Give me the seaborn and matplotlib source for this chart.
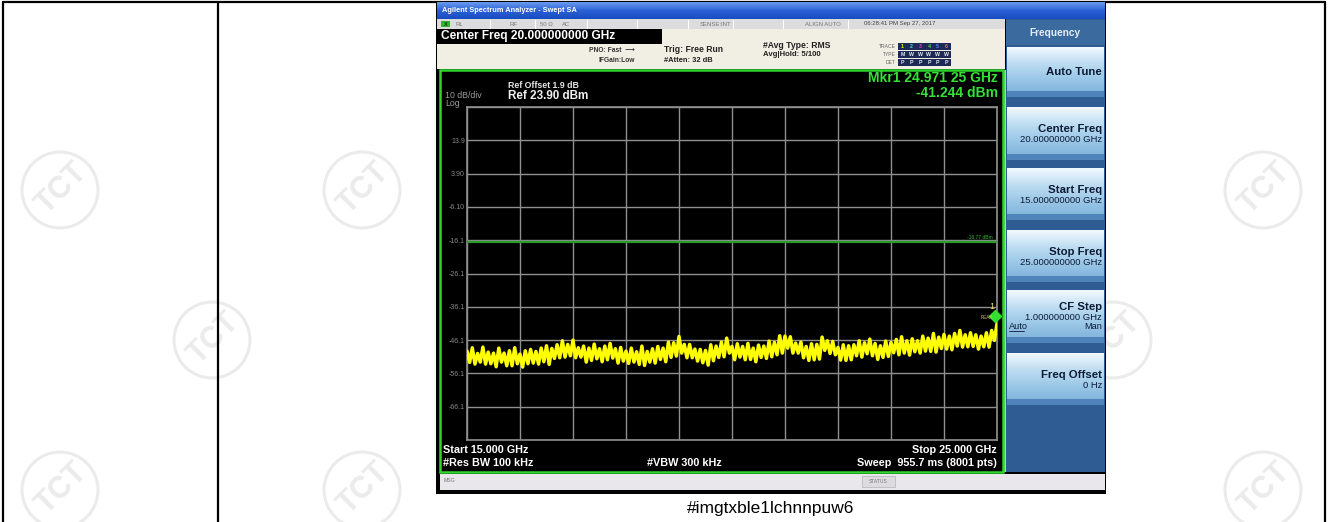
import numpy as np
import pandas as pd
import matplotlib.pyplot as plt
import seaborn as sns
from matplotlib.patches import Rectangle, Circle
from matplotlib.colors import LinearSegmentedColormap

# ---- readings off the analyzer screen ----
start_ghz = 15.0
stop_ghz = 25.0
ref_level = 23.9      # dBm, top graticule line
db_per_div = 10

# upper edge of the noise band, every 0.1 GHz from 15.0 to 25.0
band_top = [-49.4, -48.4, -50.1, -48.2, -49.7, -50.0, -48.5, -50.0, -49.3, -48.4,
            -50.3, -49.3, -48.9, -49.5, -48.5, -47.8, -48.6, -47.5, -46.3, -47.4,
            -46.1, -48.4, -47.9, -48.5, -47.3, -48.7, -47.9, -47.1, -48.7, -48.3,
            -49.4, -48.5, -49.6, -47.9, -49.5, -48.7, -48.0, -48.5, -46.7, -46.9,
            -45.0, -47.4, -47.4, -48.8, -48.9, -49.2, -47.5, -47.9, -46.7, -45.5,
            -48.0, -47.2, -48.0, -47.1, -48.5, -47.6, -47.9, -46.4, -46.8, -44.8,
            -44.9, -45.1, -47.0, -46.7, -48.0, -47.2, -47.4, -45.2, -46.3, -46.5,
            -48.3, -47.5, -47.8, -47.5, -46.3, -46.9, -45.8, -47.1, -47.8, -46.4,
            -46.8, -45.9, -45.1, -46.3, -45.7, -46.3, -44.9, -45.5, -44.1, -45.2,
            -44.4, -44.9, -44.1, -43.2, -44.5, -43.9, -44.5, -44.9, -43.9, -43.2,
            -41.2]
# lower edge of the noise band, every 0.1 GHz from 15.05 to 24.95
band_bottom = [-52.8, -53.3, -52.7, -53.3, -53.2, -54.1, -52.7, -53.8, -53.8, -53.2,
               -54.2, -53.2, -53.0, -53.3, -52.6, -53.4, -51.6, -51.4, -51.2, -50.8,
               -51.4, -51.2, -52.7, -52.2, -51.7, -52.6, -52.0, -51.5, -53.0, -52.4,
               -53.1, -52.7, -53.4, -53.7, -52.7, -53.0, -51.9, -52.6, -51.3, -50.9,
               -50.0, -51.4, -51.4, -52.4, -52.9, -53.6, -52.3, -51.3, -51.1, -50.0,
               -52.0, -51.2, -52.0, -51.9, -52.6, -51.3, -51.6, -51.1, -50.5, -50.0,
               -48.5, -50.0, -50.0, -51.4, -52.2, -52.0, -51.8, -49.2, -50.1, -50.5,
               -52.1, -52.2, -52.0, -50.8, -51.2, -50.2, -50.8, -51.9, -51.3, -51.0,
               -49.9, -50.5, -50.0, -50.6, -49.6, -50.0, -49.4, -49.5, -49.7, -48.6,
               -48.8, -49.0, -47.9, -48.2, -48.1, -48.0, -48.8, -48.1, -48.2, -46.2]

marker_freq = 24.97125
marker_level = -41.244
display_line = -16.77

y_tick_labels = ["", "13.9", "3.90", "-6.10", "-16.1", "-26.1", "-36.1",
                 "-46.1", "-56.1", "-66.1", ""]

softkeys = ["Auto Tune", "Center Freq", "Start Freq", "Stop Freq", "CF Step", "Freq Offset"]
softkey_values = ["", "20.000000000 GHz", "15.000000000 GHz", "25.000000000 GHz",
                  "1.000000000 GHz", "0 Hz"]
softkey_rows = [(47, 97), (107, 160), (168, 220), (230, 282), (290, 343), (353, 405)]

# build the trace (upper and lower readings alternate like the raw sweep)
f_top = np.round(start_ghz + 0.1 * np.arange(len(band_top)), 2)
f_bot = f_top[:-1] + 0.05
freq = np.empty(len(band_top) + len(band_bottom))
level = np.empty_like(freq)
freq[0::2], freq[1::2] = f_top, f_bot
level[0::2], level[1::2] = band_top, band_bottom
trace = pd.DataFrame({"Frequency (GHz)": freq, "Level (dBm)": level})

sns.set_style("white")
plt.rcParams['font.family'] = ['Liberation Sans', 'DejaVu Sans']

W, H = 1328, 522
fig = plt.figure(figsize=(W / 100, H / 100), dpi=100)
fig.patch.set_facecolor("white")

# page / screenshot drawn in pixel coordinates
bg = fig.add_axes([0, 0, 1, 1])
bg.axis("off")


def box(x0, y0, x1, y1, color, z=2, **kw):
    bg.add_patch(Rectangle((x0, y0), x1 - x0, y1 - y0, facecolor=color,
                           edgecolor=kw.pop("ec", "none"), zorder=z, **kw))


def txt(x, y, s, size, color="black", ha="left", weight="normal", z=8, **kw):
    bg.text(x, y, s, fontsize=size, color=color, ha=ha, va="center",
            fontweight=weight, zorder=z, **kw)


def gradient(x0, y0, x1, y1, colors, z=3):
    cm = LinearSegmentedColormap.from_list("g", colors)
    g = np.linspace(0, 1, 64).reshape(-1, 1)
    bg.imshow(g, cmap=cm, extent=(x0, x1, y1, y0), aspect="auto", zorder=z,
              interpolation="bilinear")


# watermarks
for cx, cy in [(60, 190), (362, 190), (212, 340), (60, 490), (362, 490),
               (1263, 190), (1263, 490), (1113, 340)]:
    bg.add_patch(Circle((cx, cy), 38, fill=False, ec="#ebebeb", lw=2.2, zorder=0))
    bg.text(cx + 2, cy - 2, "TCT", fontsize=22, fontweight="bold", color="#ebebeb",
            rotation=45, ha="center", va="center", zorder=0)

# table rules
for x in (3, 218, 1325):
    bg.plot([x, x], [2, H], color="black", lw=1.6, zorder=1)
bg.plot([3, 1325], [2, 2], color="black", lw=1.6, zorder=1)

# screenshot frame
box(436, 1, 1106, 494, "black", z=2)
gradient(437, 2, 1105, 19, ["#6b9bf0", "#2a60d6", "#1a4cc0"])
txt(442, 10, "Agilent Spectrum Analyzer - Swept SA", 5.3, "white", weight="bold")

# status row
box(437, 19, 1005, 29, "#dcdcdf", z=3)
for sx in (490, 535, 587, 637, 688, 733, 783, 848):
    bg.plot([sx, sx], [20, 28], color="#ffffff", lw=0.8, zorder=4)
box(441, 21, 450, 27, "#2fb82f", z=4)
txt(445.5, 24, "X", 4, "#103010", ha="center", weight="bold")
for sx, s in [(455, "RL"), (510, "RF"), (540, "50 Ω"), (562, "AC"),
              (715, "SENSE:INT"), (823, "ALIGN AUTO")]:
    txt(sx, 24, s, 4.3, "#777777", ha="left" if sx < 600 else "center")
txt(900, 24, "06:28:41 PM Sep 27, 2017", 4.3, "#444444", ha="center")

# settings header
box(437, 29, 1005, 69, "#f1eee4", z=3)
box(437, 29, 662, 44, "black", z=4)
txt(441, 36.5, "Center Freq 20.000000000 GHz", 8.6, "white", weight="bold")
txt(635, 51, "PNO: Fast  ⟶", 4.8, "#333333", ha="right", weight="bold")
txt(635, 61, "IFGain:Low", 4.8, "#333333", ha="right", weight="bold")
txt(664, 50, "Trig: Free Run", 6.2, "#222222", weight="bold")
txt(664, 60, "#Atten: 32 dB", 5.4, "#222222", weight="bold")
txt(763, 46, "#Avg Type: RMS", 6.2, "#222222", weight="bold")
txt(763, 55, "Avg|Hold: 5/100", 5.6, "#222222", weight="bold")
for ry, lab, cells in [(46, "TRACE", ["1", "2", "3", "4", "5", "6"]),
                       (54, "TYPE", ["M", "W", "W", "W", "W", "W"]),
                       (62, "DET", ["P", "P", "P", "P", "P", "P"])]:
    txt(896, ry, lab, 3.6, "#666666", ha="right")
    box(898, ry - 3.5, 951, ry + 3.5, "#1c2a55", z=4)
    cols = ["#f0f000", "#40e0e0", "#e040e0", "#40e040", "#6080ff", "#e08040"]
    for i, c in enumerate(cells):
        tc = cols[i] if lab == "TRACE" else "#e8e8e8"
        txt(902.5 + 8.8 * i, ry, c, 3.8, tc, ha="center", weight="bold")

# graph area
box(440, 70, 1003, 472, "black", z=3)
bg.add_patch(Rectangle((440, 70), 563, 402, fill=False, ec="#2ed62e", lw=1.8, zorder=7))
txt(508, 85, "Ref Offset 1.9 dB", 6.3, "#e8e8e8", weight="bold")
txt(508, 96, "Ref 23.90 dBm", 8.4, "#f0f0f0", weight="bold")
txt(445, 96, "10 dB/div", 6.3, "#9a9a9a")
txt(445, 103.5, "Log", 6.3, "#9a9a9a")
txt(998, 78, "Mkr1 24.971 25 GHz", 10, "#36e036", ha="right", weight="bold")
txt(998, 93, "-41.244 dBm", 10, "#36e036", ha="right", weight="bold")
txt(443, 450, "Start 15.000 GHz", 7.8, "white", weight="bold")
txt(443, 463, "#Res BW 100 kHz", 7.8, "white", weight="bold")
txt(647, 463, "#VBW 300 kHz", 7.8, "white", weight="bold")
txt(997, 450, "Stop 25.000 GHz", 7.8, "white", ha="right", weight="bold")
txt(997, 463, "Sweep  955.7 ms (8001 pts)", 7.8, "white", ha="right", weight="bold")

# message bar
box(440, 474, 1105, 490, "#e9e7eb", z=3)
txt(444, 481, "MSG", 3.8, "#777777")
box(862, 476, 895, 487, "#dddbe0", z=4, ec="#bbbbbb", lw=0.6)
txt(878.5, 481.5, "STATUS", 3.6, "#777777", ha="center")

# soft key panel
box(1003, 70, 1006, 472, "#9fe09f", z=4)
box(1006, 19, 1105, 472, "#2f5d93", z=3)
box(1006, 20, 1105, 45, "#3b6a9f", z=4)
txt(1055, 33, "Frequency", 7.3, "#e4eef8", ha="center", weight="bold")
for (y0, y1), key, val in zip(softkey_rows, softkeys, softkey_values):
    gradient(1007, y0, 1104, y1, ["#f2f9fe", "#bcdcf1", "#98c5e6", "#7aaed8"], z=4)
    box(1007, y1 - 6, 1104, y1, "#4f84ba", z=5)
    ky = (y0 + y1) / 2 - 4 if val else (y0 + y1) / 2
    if key == "CF Step":
        ky = y0 + 17
    txt(1102, ky, key, 8.2, "#0d1b36", ha="right", weight="bold")
    if val:
        txt(1102, ky + 10.5, val, 6.8, "#0d1b36", ha="right")
    if key == "CF Step":
        txt(1009, ky + 19.5, "Auto", 6.6, "#0d1b36")
        bg.plot([1009, 1024], [ky + 24, ky + 24], color="#0d1b36", lw=0.6, zorder=8)
        txt(1102, ky + 19.5, "Man", 6.6, "#0d1b36", ha="right")

# caption
txt(771, 508, "#imgtxble1lchnnpuw6", 12.5, "black", ha="center")

bg.set_xlim(0, W)
bg.set_ylim(H, 0)

# ---- the spectrum trace ----
ax = fig.add_axes([467 / W, (H - 440) / H, 530 / W, 333 / H])
ax.set_facecolor("black")
sns.lineplot(data=trace, x="Frequency (GHz)", y="Level (dBm)", ax=ax,
             color="#ffff00", lw=2.5, estimator=None, sort=False, zorder=4)
ax.axhline(display_line, color="#2a9a2a", lw=1.6, zorder=3)
ax.text(stop_ghz - 0.08, display_line + 0.6, f"{display_line:.2f} dBm",
        fontsize=3.6, color="#2fbf2f", ha="right", va="bottom", zorder=5)
ax.plot([marker_freq], [marker_level + 2.4], marker="D", ms=6.5, color="#32e032",
        clip_on=False, zorder=6)
ax.text(24.9, marker_level + 5.2, "1", fontsize=6.5, color="#e8e070",
        ha="center", va="center", zorder=6)
ax.text(24.93, marker_level + 1.8, "PEAK", fontsize=3.4, color="#e0d060",
        ha="right", va="center", zorder=6)

ax.set_xlim(start_ghz, stop_ghz)
ax.set_ylim(ref_level - 10 * db_per_div, ref_level)
ax.set_xticks(np.arange(start_ghz, stop_ghz + 0.5, 1.0))
ax.set_xticklabels([])
ax.set_yticks(ref_level - db_per_div * np.arange(11))
ax.set_yticklabels(y_tick_labels)
ax.tick_params(axis="both", length=0, labelsize=5, labelcolor="#8a8a8a", pad=1.5)
ax.grid(True, color="#8f8f8f", lw=1.0)
ax.set_axisbelow(True)
for sp in ax.spines.values():
    sp.set_color("#8f8f8f")
    sp.set_linewidth(1.2)
ax.set_xlabel("")
ax.set_ylabel("")

fig.savefig("out.png", dpi=100, facecolor="white")
